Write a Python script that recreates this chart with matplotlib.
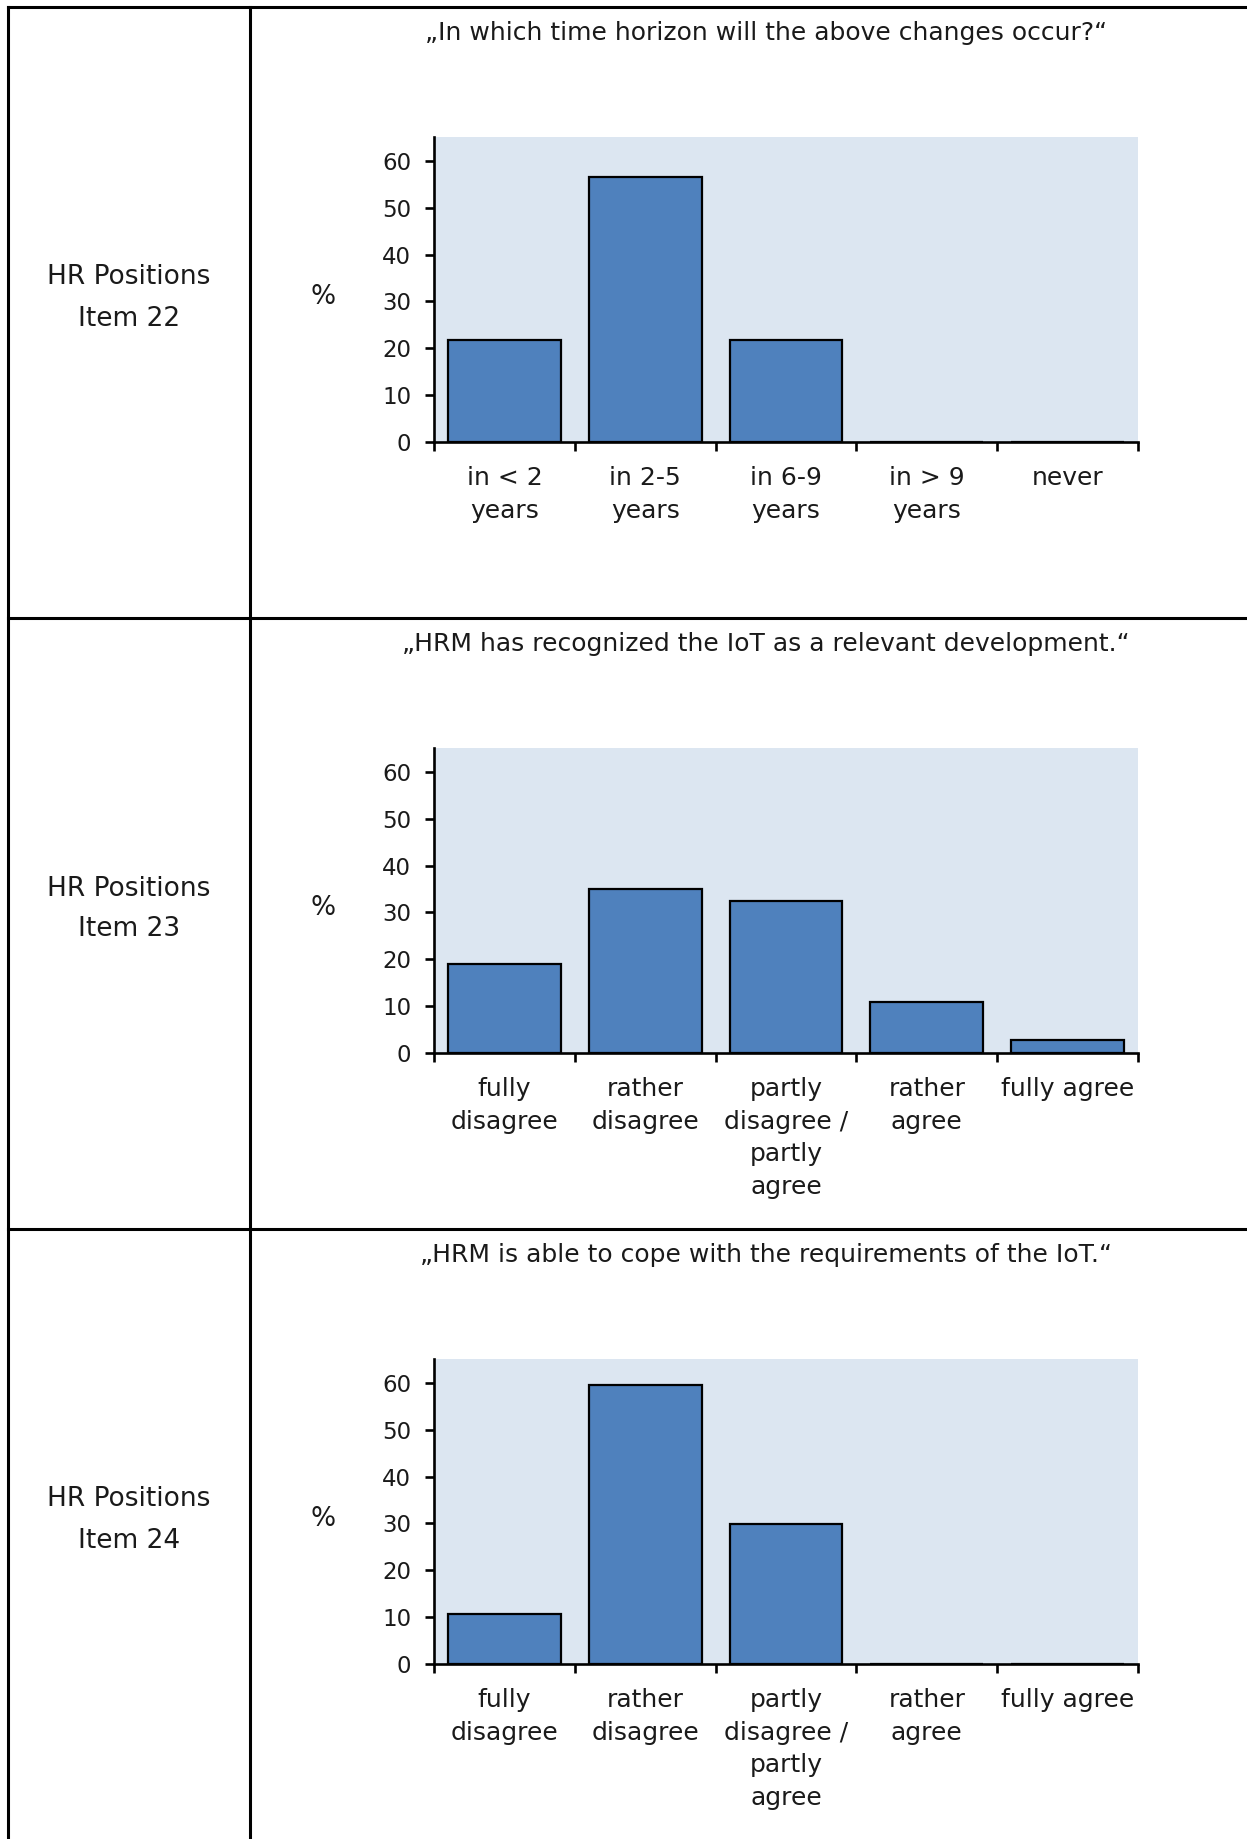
import matplotlib
matplotlib.use("Agg")
import matplotlib.pyplot as plt
from matplotlib.lines import Line2D

plt.rcParams['font.family'] = ['DejaVu Sans']

# ---- data -------------------------------------------------------------
row_labels = ["HR Positions\nItem 22", "HR Positions\nItem 23", "HR Positions\nItem 24"]

titles = [
    "\u201eIn which time horizon will the above changes occur?\u201c",
    "\u201eHRM has recognized the IoT as a relevant development.\u201c",
    "\u201eHRM is able to cope with the requirements of the IoT.\u201c",
]

time_categories = ["in < 2\nyears", "in 2-5\nyears", "in 6-9\nyears", "in > 9\nyears", "never"]
agree_categories = ["fully\ndisagree", "rather\ndisagree", "partly\ndisagree /\npartly\nagree",
                    "rather\nagree", "fully agree"]

item22_pct = [21.7, 56.5, 21.7, 0.0, 0.0]
item23_pct = [18.9, 35.1, 32.4, 10.8, 2.7]
item24_pct = [10.6, 59.6, 29.8, 0.0, 0.0]

y_ticks = [0, 10, 20, 30, 40, 50, 60]

panels = [
    (row_labels[0], titles[0], time_categories, item22_pct),
    (row_labels[1], titles[1], agree_categories, item23_pct),
    (row_labels[2], titles[2], agree_categories, item24_pct),
]

# ---- figure -----------------------------------------------------------
W, H = 1247, 1839
DPI = 100
fig = plt.figure(figsize=(W / DPI, H / DPI), dpi=DPI)
fig.patch.set_facecolor("white")

TEXT = "#1a1a1a"
BAR = "#4F81BD"
PLOT_BG = "#DCE6F1"
FS_TEXT = 18
FS_TICK = 16.5


def fx(px):
    return px / W


def fy(py):
    return 1 - py / H


# table grid
lw_tab = 2.2
row_step = 611
table_lines = [
    ((8, W), (7, 7)),
    ((8, 8), (7, H)),
    ((250, 250), (7, H)),
    ((8, W), (618, 618)),
    ((8, W), (1229, 1229)),
]
for xs, ys in table_lines:
    fig.add_artist(Line2D([fx(x) for x in xs], [fy(y) for y in ys],
                          color="black", lw=lw_tab, solid_capstyle="projecting"))

# chart panels
ax_left, ax_right = 434, 1138
bg_top0, zero0 = 137, 442
ymax = 65.1

for i, (rlabel, title, cats, vals) in enumerate(panels):
    off = row_step * i
    top = bg_top0 + off
    zero = zero0 + off
    ax = fig.add_axes([fx(ax_left), fy(zero), fx(ax_right - ax_left), (zero - top) / H])
    ax.set_facecolor(PLOT_BG)
    xpos = list(range(len(cats)))
    ax.bar(xpos, vals, width=0.8, color=BAR, edgecolor="black", linewidth=1.6, zorder=3)
    ax.set_xlim(-0.5, len(cats) - 0.5)
    ax.set_ylim(0, ymax)

    for s in ["top", "right"]:
        ax.spines[s].set_visible(False)
    for s in ["left", "bottom"]:
        ax.spines[s].set_linewidth(1.9)
        ax.spines[s].set_zorder(4)

    ax.set_yticks(y_ticks)
    ax.set_yticklabels([str(t) for t in y_ticks], fontsize=FS_TICK, color=TEXT)
    ax.tick_params(axis="y", direction="out", length=6.5, width=1.9, pad=10)

    ax.set_xticks([x - 0.5 for x in range(len(cats) + 1)])
    ax.set_xticklabels([])
    ax.tick_params(axis="x", direction="out", length=6.5, width=1.9)

    for x, c in zip(xpos, cats):
        ax.annotate(c, xy=(x, 0), xytext=(0, -24), textcoords="offset pixels",
                    ha="center", va="top", fontsize=FS_TEXT, color=TEXT,
                    linespacing=1.45, annotation_clip=False)

    # axis unit
    fig.text(fx(323), fy(297 + off), "%", fontsize=19, color=TEXT,
             ha="center", va="center")
    # question text
    fig.text(fx(766), fy(33 + off), title, fontsize=FS_TEXT, color=TEXT,
             ha="center", va="center")
    # row label
    fig.text(fx(129), fy(298 + off), rlabel, fontsize=19, color=TEXT,
             ha="center", va="center", linespacing=1.75)

fig.savefig("out.png", dpi=DPI, facecolor="white")
